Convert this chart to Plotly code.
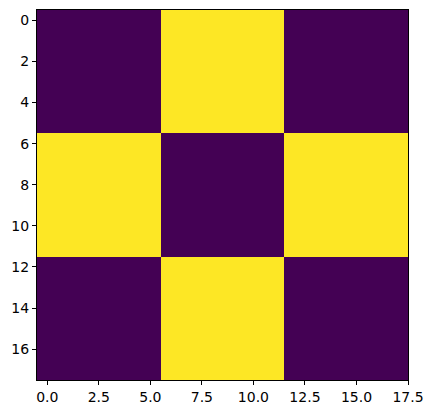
import plotly.graph_objects as go

# Block edges (in cell units) and block values of the 18x18 checkerboard image
col_edges = [-0.5, 5.5, 11.5, 17.5]
row_edges = [-0.5, 5.5, 11.5, 17.5]
block_values = [
    [0, 1, 0],
    [1, 0, 1],
    [0, 1, 0],
]
x_ticks = [0.0, 2.5, 5.0, 7.5, 10.0, 12.5, 15.0, 17.5]
y_ticks = [0, 2, 4, 6, 8, 10, 12, 14, 16]

fig = go.Figure(
    go.Heatmap(
        x=col_edges,
        y=row_edges,
        z=block_values,
        colorscale=[[0, "#440154"], [1, "#fde725"]],
        zmin=0,
        zmax=1,
        showscale=False,
        hoverinfo="skip",
    )
)

axis_common = dict(
    showline=True,
    mirror=True,
    linecolor="black",
    linewidth=1,
    ticks="outside",
    ticklen=4,
    tickwidth=1,
    tickcolor="black",
    showgrid=False,
    zeroline=False,
    automargin=False,
    tickfont=dict(family="DejaVu Sans", size=14, color="black"),
)

fig.update_layout(
    width=432,
    height=413,
    margin=dict(l=37, r=24, t=10, b=33, autoexpand=False),
    paper_bgcolor="white",
    plot_bgcolor="white",
    xaxis=dict(
        range=[-0.5, 17.5],
        tickvals=x_ticks,
        ticktext=[f"{v:.1f}" for v in x_ticks],
        **axis_common,
    ),
    yaxis=dict(
        range=[17.5, -0.5],
        tickvals=y_ticks,
        ticktext=[str(v) for v in y_ticks],
        **axis_common,
    ),
)

fig.write_html(
    "out.html",
    config={"displayModeBar": False},
    post_script="document.body.style.margin='0';document.body.style.overflow='hidden';",
)
